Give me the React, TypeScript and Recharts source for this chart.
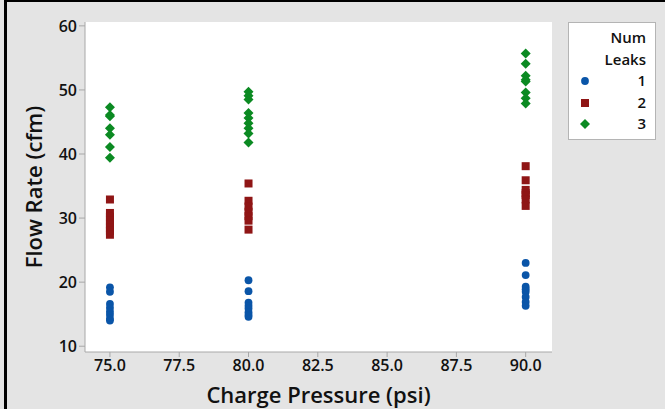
import { CartesianGrid, Scatter, ScatterChart, XAxis, YAxis } from "recharts";

// charge pressure levels (psi)
const pressures = [75, 80, 90];

// flow rate (cfm), one list per pressure level
const flowOneLeak = [
  [19.2, 18.5, 16.6, 16.0, 15.4, 14.9, 14.3, 14.0],
  [20.3, 18.6, 16.8, 16.3, 15.9, 15.3, 14.9, 14.6],
  [23.0, 21.1, 19.3, 18.9, 18.5, 17.7, 16.9, 16.3],
];
const flowTwoLeaks = [
  [32.9, 30.8, 30.2, 29.6, 29.0, 28.5, 28.0, 27.4],
  [35.4, 32.7, 31.8, 31.0, 30.3, 29.6, 28.2],
  [38.1, 35.9, 34.4, 33.9, 33.6, 32.9, 31.9],
];
const flowThreeLeaks = [
  [47.3, 46.1, 45.9, 44.0, 43.0, 41.1, 39.4],
  [49.7, 49.1, 48.5, 46.4, 45.6, 44.8, 44.0, 43.2, 41.8],
  [55.7, 54.1, 52.2, 51.6, 51.3, 49.6, 48.7, 47.9],
];

const xTicks = [75, 77.5, 80, 82.5, 85, 87.5, 90];
const yTicks = [10, 20, 30, 40, 50, 60];

const toPoints = (flows: number[][]) =>
  flows.flatMap((list, i) => list.map((flow) => ({ pressure: pressures[i], flow })));

const series = [
  { name: "1", color: "#0a55a8", marker: "circle", data: toPoints(flowOneLeak) },
  { name: "2", color: "#8f1515", marker: "square", data: toPoints(flowTwoLeaks) },
  { name: "3", color: "#0b8a22", marker: "diamond", data: toPoints(flowThreeLeaks) },
];

const font = "'Open Sans', 'Noto Sans', sans-serif";

function Marker({ cx, cy, kind, color }: { cx: number; cy: number; kind: string; color: string }) {
  if (kind === "square") return <rect x={cx - 4} y={cy - 4} width={8} height={8} fill={color} />;
  if (kind === "diamond")
    return (
      <path
        d={`M${cx},${cy - 5} L${cx + 5},${cy} L${cx},${cy + 5} L${cx - 5},${cy} Z`}
        fill={color}
      />
    );
  return <circle cx={cx} cy={cy} r={3.9} fill={color} />;
}

function LegendBox() {
  return (
    <div
      style={{
        position: "absolute",
        left: 568,
        top: 22,
        width: 88,
        height: 118,
        background: "#fff",
        border: "1px solid #b4b4b4",
        boxSizing: "border-box",
        fontFamily: font,
        fontSize: 15,
        fontWeight: 600,
        color: "#111",
        paddingRight: 9,
        paddingTop: 4,
        lineHeight: "21.5px",
        textAlign: "right",
      }}
    >
      <div>Num</div>
      <div>Leaks</div>
      {series.map((s) => (
        <div key={s.name} style={{ position: "relative" }}>
          <svg width={12} height={12} style={{ position: "absolute", left: 10, top: 5 }}>
            <Marker cx={6} cy={6} kind={s.marker} color={s.color} />
          </svg>
          {s.name}
        </div>
      ))}
    </div>
  );
}

export default function App() {
  return (
    <div
      style={{
        position: "absolute",
        left: 0,
        top: 0,
        width: 665,
        height: 409,
        background: "#e4e4e4",
      }}
    >
      <div style={{ position: "absolute", left: 4, top: 0, width: 3, height: 409, background: "#000" }} />
      <div style={{ position: "absolute", left: 4, top: 0, width: 661, height: 2, background: "#000" }} />
      <ScatterChart
        width={665}
        height={409}
        margin={{ top: 22, right: 113, bottom: 0, left: 0 }}
        style={{ position: "absolute", left: 0, top: 0 }}
      >
        <CartesianGrid horizontal={false} vertical={false} fill="#fff" />
        <XAxis
          xAxisId="top"
          orientation="top"
          type="number"
          dataKey="pressure"
          domain={[74.1, 90.95]}
          height={0}
          tick={false}
          tickLine={false}
          axisLine={{ stroke: "#bdbdbd" }}
        />
        <YAxis
          yAxisId="right"
          orientation="right"
          type="number"
          dataKey="flow"
          domain={[9.1, 60.6]}
          width={0}
          tick={false}
          tickLine={false}
          axisLine={{ stroke: "#bdbdbd" }}
        />
        <XAxis
          type="number"
          dataKey="pressure"
          domain={[74.1, 90.95]}
          ticks={xTicks}
          allowDataOverflow
          height={57}
          tickFormatter={(v: number) => v.toFixed(1)}
          tick={{ fill: "#111", fontSize: 16, fontFamily: font, fontWeight: 600 }}
          tickSize={5}
          tickMargin={3}
          stroke="#a8a8a8"
          label={{
            value: "Charge Pressure (psi)",
            position: "insideBottom",
            offset: 6,
            fill: "#111",
            fontSize: 22,
            fontWeight: 600,
            fontFamily: font,
          }}
        />
        <YAxis
          type="number"
          dataKey="flow"
          domain={[9.1, 60.6]}
          ticks={yTicks}
          allowDataOverflow
          width={85}
          tick={{ fill: "#111", fontSize: 16, fontFamily: font, fontWeight: 600 }}
          tickSize={6}
          tickMargin={2}
          stroke="#a8a8a8"
          label={{
            value: "Flow Rate (cfm)",
            angle: -90,
            position: "insideLeft",
            offset: 34,
            style: { textAnchor: "middle" },
            fill: "#111",
            fontSize: 22,
            fontWeight: 600,
            fontFamily: font,
          }}
        />
        {series.map((s) => (
          <Scatter
            key={s.name}
            name={s.name}
            data={s.data}
            fill={s.color}
            isAnimationActive={false}
            shape={(p: any) => <Marker cx={p.cx} cy={p.cy} kind={s.marker} color={s.color} />}
          />
        ))}
      </ScatterChart>
      <LegendBox />
    </div>
  );
}
